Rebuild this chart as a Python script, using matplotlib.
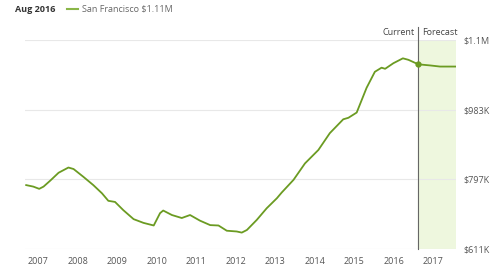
import matplotlib
matplotlib.use('Agg')
import matplotlib.pyplot as plt

plt.rcParams['font.family'] = ['Open Sans', 'DejaVu Sans']

# home value index, decimal year -> value in $K
hist_dates = [2006.69, 2006.87, 2007.02, 2007.13, 2007.30, 2007.51, 2007.76, 2007.89,
              2008.14, 2008.39, 2008.61, 2008.77, 2008.94, 2009.15, 2009.41, 2009.66,
              2009.92, 2010.08, 2010.16, 2010.38, 2010.63, 2010.84, 2011.09, 2011.35,
              2011.56, 2011.77, 2012.02, 2012.15, 2012.28, 2012.53, 2012.78, 2013.04,
              2013.16, 2013.46, 2013.75, 2014.09, 2014.38, 2014.72, 2014.85, 2015.06,
              2015.31, 2015.52, 2015.69, 2015.78, 2015.99, 2016.23, 2016.37, 2016.62]
hist_values = [782, 778, 772, 778, 794, 815, 829, 825,
               804, 782, 760, 740, 737, 715, 691, 681,
               674, 707, 714, 702, 694, 702, 687, 675,
               674, 660, 658, 655, 662, 689, 720, 747,
               762, 796, 840, 876, 921, 958, 962, 976,
               1042, 1085, 1096, 1093, 1108, 1121, 1117, 1105]
fc_dates = [2016.62, 2016.92, 2017.17, 2017.57]
fc_values = [1105, 1102, 1099, 1099]

year_ticks = list(range(2007, 2018))
y_ticks = [611, 797, 983, 1169]
y_labels = ['$611K', '$797K', '$983K', '$1.1M']

green = '#6b9b22'
gray = '#555555'

fig = plt.figure(figsize=(5, 2.71), dpi=100)
ax = fig.add_axes([0.05, 0.081, 0.862, 0.77])

ax.set_xlim(2006.66, 2017.575)
ax.set_ylim(611, 1169)

ax.axvspan(fc_dates[0], 2017.575, color='#eef7de', zorder=0)
for v in y_ticks:
    ax.axhline(v, color='#e8e8e8', lw=0.8, zorder=1)

ax.plot(hist_dates, hist_values, color=green, lw=1.3, zorder=3)
ax.plot(fc_dates, fc_values, color=green, lw=1.3, zorder=3)
ax.plot([fc_dates[0]], [fc_values[0]], 'o', color=green, ms=3.5, zorder=4)

# current / forecast divider
ax.plot([fc_dates[0], fc_dates[0]], [611, 1205], color='#666666', lw=0.8,
        clip_on=False, zorder=2)
ax.text(fc_dates[0] - 0.1, 1190, 'Current', ha='right', va='center',
        fontsize=6.5, color='#444444')
ax.text(fc_dates[0] + 0.1, 1190, 'Forecast', ha='left', va='center',
        fontsize=6.5, color='#444444')

ax.set_xticks(year_ticks)
ax.set_xticklabels([str(y) for y in year_ticks])
ax.set_yticks(y_ticks)
ax.set_yticklabels(y_labels)
ax.yaxis.tick_right()
ax.tick_params(axis='both', length=0, labelsize=6.5, colors=gray)
ax.tick_params(axis='x', pad=6)
ax.tick_params(axis='y', pad=5)
for s in ax.spines.values():
    s.set_visible(False)

# header
fig.text(0.03, 0.965, 'Aug 2016', fontsize=6.5, fontweight='bold', color='#333333',
         va='center')
fig.add_artist(plt.Line2D([0.134, 0.156], [0.965, 0.965], color='#8ab648', lw=1.5))
fig.text(0.164, 0.965, 'San Francisco $1.11M', fontsize=6.5, color='#666666',
         va='center')

fig.savefig('out.png', dpi=100)
